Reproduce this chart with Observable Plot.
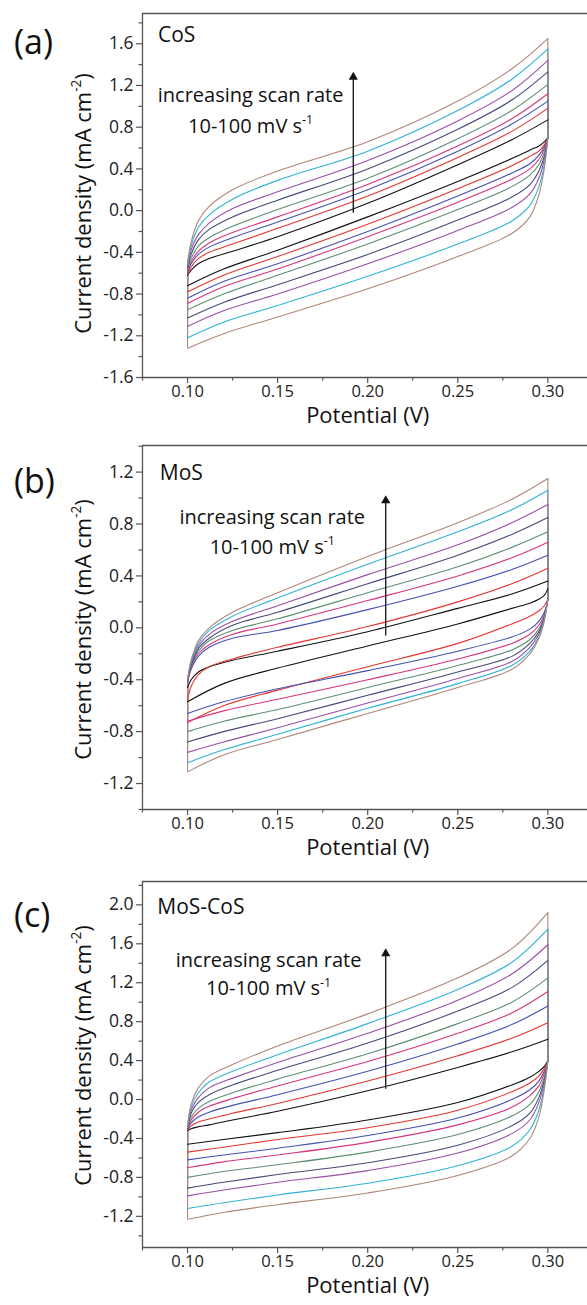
<!DOCTYPE html>
<html>
<head>
<meta charset="utf-8">
<script src="https://cdn.jsdelivr.net/npm/d3@7"></script>
<script src="https://cdn.jsdelivr.net/npm/@observablehq/plot@0.6"></script>
<style>
  body { margin: 0; background: #fff; font-family: "Open Sans", "Noto Sans", sans-serif; }
  .panel { position: relative; width: 587px; overflow: hidden; }
  .tag { position: absolute; left: 14px; font-size: 34px; line-height: 1; color: #111; }
  svg { display: block; }
</style>
</head>
<body>
<div id="root"></div>
<script>
// ---------- data ----------
const seriesOrder = ["s1", "s2", "s3", "s4", "s5", "s6", "s7", "s8", "s9"]; // 10 -> 100 mV/s
const seriesColors = ["#111111", "#e5352e", "#4451b3", "#d8357e", "#5e9070", "#474a78", "#9a4fa5", "#2fb2d6", "#b08676"];

const potentialUp = [0.100, 0.102, 0.106, 0.112, 0.125, 0.150, 0.200, 0.250, 0.280, 0.300];
const potentialDown = [0.300, 0.298, 0.295, 0.290, 0.280, 0.250, 0.200, 0.150, 0.120, 0.100];

const xMajorTicks = [0.10, 0.15, 0.20, 0.25, 0.30];
const xMinorTicks = [0.075, 0.125, 0.175, 0.225, 0.275];

// (a) CoS
const cosUp = [
  [-0.62, -0.57, -0.51, -0.46, -0.39, -0.25, 0.07, 0.44, 0.68, 0.87],
  [-0.61, -0.54, -0.46, -0.40, -0.32, -0.17, 0.14, 0.51, 0.76, 0.98],
  [-0.59, -0.51, -0.42, -0.35, -0.26, -0.11, 0.20, 0.57, 0.83, 1.05],
  [-0.58, -0.49, -0.39, -0.31, -0.21, -0.06, 0.25, 0.62, 0.88, 1.12],
  [-0.57, -0.46, -0.34, -0.26, -0.15, 0.01, 0.31, 0.69, 0.96, 1.21],
  [-0.55, -0.42, -0.28, -0.18, -0.06, 0.10, 0.40, 0.78, 1.06, 1.33],
  [-0.54, -0.38, -0.23, -0.12, 0.02, 0.18, 0.48, 0.86, 1.15, 1.44],
  [-0.52, -0.34, -0.16, -0.04, 0.11, 0.29, 0.57, 0.96, 1.26, 1.55],
  [-0.50, -0.30, -0.10, 0.04, 0.20, 0.38, 0.66, 1.05, 1.36, 1.65]
];
const cosDown = [
  [0.70, 0.66, 0.62, 0.58, 0.50, 0.28, -0.06, -0.38, -0.56, -0.72],
  [0.70, 0.63, 0.57, 0.52, 0.43, 0.21, -0.13, -0.44, -0.62, -0.78],
  [0.70, 0.61, 0.53, 0.45, 0.36, 0.14, -0.20, -0.51, -0.68, -0.84],
  [0.70, 0.59, 0.49, 0.40, 0.30, 0.08, -0.25, -0.56, -0.73, -0.89],
  [0.70, 0.56, 0.44, 0.34, 0.23, 0.01, -0.32, -0.62, -0.80, -0.95],
  [0.70, 0.52, 0.38, 0.25, 0.13, -0.09, -0.42, -0.71, -0.88, -1.03],
  [0.70, 0.49, 0.31, 0.16, 0.03, -0.19, -0.51, -0.80, -0.96, -1.11],
  [0.70, 0.44, 0.23, 0.05, -0.10, -0.32, -0.63, -0.91, -1.07, -1.22],
  [0.70, 0.40, 0.15, -0.06, -0.22, -0.44, -0.75, -1.02, -1.18, -1.32]
];

// (b) MoS
const mosUp = [
  [-0.46, -0.40, -0.34, -0.30, -0.25, -0.18, -0.03, 0.15, 0.26, 0.36],
  [-0.56, -0.45, -0.36, -0.30, -0.24, -0.15, 0.01, 0.20, 0.34, 0.46],
  [-0.42, -0.32, -0.22, -0.15, -0.08, -0.02, 0.14, 0.32, 0.45, 0.56],
  [-0.42, -0.31, -0.20, -0.13, -0.05, 0.03, 0.21, 0.40, 0.54, 0.66],
  [-0.41, -0.30, -0.18, -0.10, -0.02, 0.07, 0.27, 0.47, 0.62, 0.74],
  [-0.41, -0.29, -0.16, -0.08, 0.02, 0.12, 0.34, 0.56, 0.72, 0.85],
  [-0.41, -0.27, -0.14, -0.05, 0.05, 0.17, 0.41, 0.64, 0.81, 0.95],
  [-0.40, -0.26, -0.12, -0.02, 0.09, 0.23, 0.49, 0.74, 0.91, 1.06],
  [-0.40, -0.25, -0.10, 0.00, 0.12, 0.27, 0.55, 0.81, 0.99, 1.15]
];
const mosDown = [
  [0.30, 0.25, 0.22, 0.19, 0.15, 0.03, -0.14, -0.31, -0.43, -0.57],
  [0.22, 0.17, 0.13, 0.09, 0.03, -0.12, -0.30, -0.48, -0.60, -0.73],
  [0.22, 0.12, 0.05, -0.01, -0.07, -0.18, -0.33, -0.47, -0.57, -0.66],
  [0.22, 0.10, 0.02, -0.05, -0.12, -0.24, -0.40, -0.55, -0.64, -0.72],
  [0.22, 0.09, -0.01, -0.09, -0.17, -0.29, -0.46, -0.63, -0.72, -0.80],
  [0.22, 0.08, -0.03, -0.12, -0.22, -0.34, -0.52, -0.70, -0.80, -0.88],
  [0.22, 0.07, -0.05, -0.15, -0.26, -0.39, -0.58, -0.77, -0.88, -0.96],
  [0.22, 0.06, -0.07, -0.18, -0.29, -0.43, -0.62, -0.82, -0.94, -1.04],
  [0.22, 0.05, -0.08, -0.20, -0.32, -0.46, -0.66, -0.86, -0.98, -1.11]
];

// (c) MoS-CoS
const mixUp = [
  [-0.32, -0.30, -0.28, -0.26, -0.21, -0.12, 0.09, 0.33, 0.49, 0.62],
  [-0.32, -0.27, -0.23, -0.20, -0.14, -0.04, 0.19, 0.45, 0.63, 0.79],
  [-0.31, -0.24, -0.18, -0.13, -0.06, 0.05, 0.29, 0.57, 0.77, 0.96],
  [-0.31, -0.21, -0.13, -0.07, 0.01, 0.14, 0.39, 0.68, 0.89, 1.11],
  [-0.30, -0.18, -0.09, -0.02, 0.07, 0.21, 0.47, 0.78, 1.00, 1.25],
  [-0.30, -0.14, -0.03, 0.05, 0.15, 0.30, 0.58, 0.91, 1.15, 1.43],
  [-0.29, -0.11, 0.02, 0.12, 0.22, 0.38, 0.68, 1.02, 1.29, 1.59],
  [-0.29, -0.08, 0.07, 0.18, 0.29, 0.46, 0.78, 1.13, 1.41, 1.75],
  [-0.28, -0.05, 0.12, 0.24, 0.36, 0.55, 0.88, 1.25, 1.55, 1.92]
];
const mixDown = [
  [0.40, 0.34, 0.29, 0.23, 0.15, -0.03, -0.21, -0.34, -0.41, -0.46],
  [0.40, 0.32, 0.24, 0.17, 0.08, -0.11, -0.29, -0.41, -0.49, -0.54],
  [0.40, 0.29, 0.19, 0.10, 0.00, -0.19, -0.37, -0.50, -0.57, -0.62],
  [0.40, 0.27, 0.14, 0.04, -0.08, -0.26, -0.44, -0.57, -0.64, -0.70],
  [0.40, 0.23, 0.08, -0.05, -0.17, -0.36, -0.54, -0.67, -0.74, -0.80],
  [0.40, 0.20, 0.02, -0.14, -0.27, -0.47, -0.65, -0.77, -0.85, -0.91],
  [0.40, 0.17, -0.03, -0.21, -0.35, -0.55, -0.73, -0.85, -0.93, -0.99],
  [0.40, 0.13, -0.11, -0.31, -0.48, -0.68, -0.86, -0.98, -1.06, -1.12],
  [0.40, 0.10, -0.18, -0.40, -0.58, -0.78, -0.96, -1.08, -1.16, -1.23]
];

const cosYMajor = [-1.6, -1.2, -0.8, -0.4, 0.0, 0.4, 0.8, 1.2, 1.6];
const cosYMinor = [-1.4, -1.0, -0.6, -0.2, 0.2, 0.6, 1.0, 1.4, 1.8];
const mosYMajor = [-1.2, -0.8, -0.4, 0.0, 0.4, 0.8, 1.2];
const mosYMinor = [-1.4, -1.0, -0.6, -0.2, 0.2, 0.6, 1.0, 1.4];
const mixYMajor = [-1.2, -0.8, -0.4, 0.0, 0.4, 0.8, 1.2, 1.6, 2.0];
const mixYMinor = [-1.4, -1.0, -0.6, -0.2, 0.2, 0.6, 1.0, 1.4, 1.8, 2.2];

const panelTags = ["(a)", "(b)", "(c)"];
const panelNames = ["CoS", "MoS", "MoS-CoS"];
const annotationLines = ["increasing scan rate", "10-100 mV s^{-1}"];
const xTitle = "Potential (V)";
const yTitle = "Current density (mA cm^{-2})";

// ---------- layout ----------
const xDomain = [0.075, 0.322];
const panels = [
  { up: cosUp, down: cosDown, yDomain: [-1.6, 1.89], yMajor: cosYMajor, yMinor: cosYMinor,
    height: 430, mt: 13, mb: 53, tagTop: 24, yTitleDy: 8,
    nameAt: [0.0836, 1.68], textAt: [0.135, 1.10, 0.81], arrow: [0.192, -0.02, 1.28] },
  { up: mosUp, down: mosDown, yDomain: [-1.4, 1.405], yMajor: mosYMajor, yMinor: mosYMinor,
    height: 430, mt: 15, mb: 51, tagTop: 33, yTitleDy: 2,
    nameAt: [0.0846, 1.19], textAt: [0.147, 0.85, 0.62], arrow: [0.210, -0.06, 0.98] },
  { up: mixUp, down: mixDown, yDomain: [-1.52, 2.24], yMajor: mixYMajor, yMinor: mixYMinor,
    height: 445, mt: 21, mb: 58, tagTop: 37, yTitleDy: -9,
    nameAt: [0.0832, 1.98], textAt: [0.145, 1.43, 1.14], arrow: [0.210, 0.11, 1.50] }
];

function branchRows(values, grid) {
  const rows = [];
  values.forEach((v, k) => grid.forEach((x, i) => rows.push({ s: seriesOrder[k], x, y: v[i] })));
  return rows.sort((a, b) => d3.ascending(a.s, b.s) || d3.ascending(a.x, b.x));
}
function edgeRows(up, down) {
  // vertical switching segments at both potential limits
  const rows = [];
  up.forEach((u, k) => {
    rows.push({ s: seriesOrder[k], x: potentialUp[0], y1: down[k][down[k].length - 1], y2: u[0] });
    rows.push({ s: seriesOrder[k], x: potentialDown[0], y1: u[u.length - 1], y2: down[k][0] });
  });
  return rows;
}

const fmt1 = d => d.toFixed(1);
const fmt2 = d => d.toFixed(2);
const axisColor = "#555";

function supify(svg) {
  const ns = "http://www.w3.org/2000/svg";
  svg.querySelectorAll("text").forEach(t => {
    const s = t.textContent;
    const m = s.match(/^(.*)\^\{(.*?)\}(.*)$/);
    if (!m) return;
    const fs = parseFloat(getComputedStyle(t).fontSize) || 16;
    t.textContent = "";
    const a = document.createElementNS(ns, "tspan"); a.textContent = m[1]; t.appendChild(a);
    const b = document.createElementNS(ns, "tspan"); b.textContent = m[2];
    b.setAttribute("dy", (-0.42 * fs).toFixed(1)); b.setAttribute("font-size", (0.62 * fs).toFixed(1));
    t.appendChild(b);
    const c = document.createElementNS(ns, "tspan"); c.textContent = m[3];
    c.setAttribute("dy", (0.42 * fs).toFixed(1)); t.appendChild(c);
  });
}

const root = document.getElementById("root");
panels.forEach((p, idx) => {
  const upRows = branchRows(p.up, potentialUp);
  const downRows = branchRows(p.down, potentialDown);
  const edges = edgeRows(p.up, p.down);
  const div = document.createElement("div");
  div.className = "panel";
  div.style.height = p.height + "px";
  const lineOpts = { x: "x", y: "y", z: "s", stroke: "s", curve: "catmull-rom", strokeWidth: 1.1 };
  const svg = Plot.plot({
    width: 587, height: p.height,
    marginLeft: 142, marginRight: 0, marginTop: p.mt, marginBottom: p.mb,
    style: { fontFamily: "'Open Sans', 'Noto Sans', sans-serif", fontSize: "17px", color: "#222", background: "transparent", overflow: "visible" },
    x: { domain: xDomain, label: null },
    y: { domain: p.yDomain, label: null },
    color: { domain: seriesOrder, range: seriesColors },
    marks: [
      Plot.ruleY([p.yDomain[1]], { stroke: axisColor, strokeWidth: 1.3 }),
      Plot.ruleY([p.yDomain[0]], { stroke: axisColor, strokeWidth: 1.3 }),
      Plot.ruleX([xDomain[0]], { stroke: axisColor, strokeWidth: 1.3 }),
      Plot.axisX({ ticks: xMajorTicks, tickSize: 6, tickPadding: 2, tickFormat: fmt2, label: null, stroke: axisColor, strokeWidth: 1.2, fill: "#222", fontSize: 16.5 }),
      Plot.axisX({ ticks: xMinorTicks, tickSize: 3.5, tickFormat: () => "", label: null, stroke: axisColor, strokeWidth: 1.2 }),
      Plot.axisY({ ticks: p.yMajor, tickSize: 6, tickPadding: 3, tickFormat: fmt1, label: null, stroke: axisColor, strokeWidth: 1.2, fill: "#222", fontSize: 17.5 }),
      Plot.axisY({ ticks: p.yMinor, tickSize: 3.5, tickFormat: () => "", label: null, stroke: axisColor, strokeWidth: 1.2 }),
      Plot.ruleX(edges, { x: "x", y1: "y1", y2: "y2", stroke: "s", strokeWidth: 1.1 }),
      Plot.line(downRows, lineOpts),
      Plot.line(upRows, lineOpts),
      Plot.link([p.arrow], { x1: d => d[0], y1: d => d[1], x2: d => d[0], y2: d => d[2], stroke: "#111", strokeWidth: 1.3 }),
      Plot.dot([p.arrow], { x: d => d[0], y: d => d[2], symbol: "triangle", r: 3.4, fill: "#111", stroke: "none" }),
      Plot.text([panelNames[idx]], { x: [p.nameAt[0]], y: [p.nameAt[1]], textAnchor: "start", fontSize: 21, fill: "#111" }),
      Plot.text([annotationLines[0]], { x: [p.textAt[0]], y: [p.textAt[1]], fontSize: 20, fill: "#111" }),
      Plot.text([annotationLines[1]], { x: [p.textAt[0]], y: [p.textAt[2]], fontSize: 20, fill: "#111" }),
      Plot.text([xTitle], { x: [0.2], frameAnchor: "bottom", dy: 45, fontSize: 22, fill: "#111" }),
      Plot.text([yTitle], { frameAnchor: "left", textAnchor: "middle", dx: -59, dy: p.yTitleDy, rotate: -90, fontSize: 22, fill: "#111" })
    ]
  });
  div.appendChild(svg);
  const tag = document.createElement("div");
  tag.className = "tag";
  tag.style.top = p.tagTop + "px";
  tag.textContent = panelTags[idx];
  div.appendChild(tag);
  root.appendChild(div);
  supify(svg);
});
</script>
</body>
</html>
